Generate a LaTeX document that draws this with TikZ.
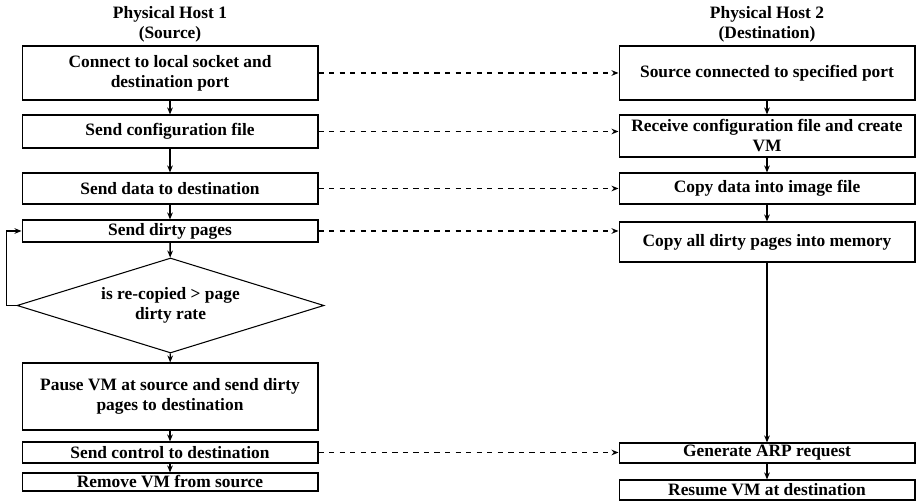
\documentclass[tikz,border=0pt]{standalone}
\usepackage{fontspec}
\setmainfont{Liberation Serif}
\usetikzlibrary{arrows.meta,shapes.geometric}

\begin{document}
\begin{tikzpicture}[x=0.02cm, y=-0.02cm, line width=0.6pt,
  font=\fontsize{9.9}{11.4}\selectfont\bfseries,
  box/.style={draw, minimum width=5.92cm, inner sep=1pt, align=center},
  flow/.style={-{Stealth[length=4pt,width=3.2pt]}, line width=0.8pt},
  link/.style={flow, dashed}]
  \useasboundingbox (0,0) rectangle (917,502);

  % source host
  \draw (170,24.5) node[align=center] (h1) {Physical Host 1\\(Source)};
  \draw (170,73) node[box, minimum height=1.08cm] (s1) {Connect to local socket and\\destination port};
  \draw (170,131.5) node[box, minimum height=0.66cm] (s2) {Send configuration file};
  \draw (170,188.5) node[box, minimum height=0.62cm] (s3) {Send data to destination};
  \draw (170,231) node[box, minimum height=0.44cm] (s4) {Send dirty pages};
  \draw (170.5,305.5) node[draw, diamond, aspect=3.2, inner sep=0pt,
    minimum width=6.14cm, minimum height=1.9cm, align=center] (chk)
    {is re-copied > page\\dirty rate};
  \draw (170,396.5) node[box, minimum height=1.34cm] (s5) {Pause VM at source and send dirty\\pages to destination};
  \draw (170,452.5) node[box, minimum height=0.42cm] (s6) {Send control to destination};
  \draw (170,482) node[box, minimum height=0.36cm] (s7) {Remove VM from source};

  % destination host
  \draw (767,24.5) node[align=center] (h2) {Physical Host 2\\(Destination)};
  \draw (767,73) node[box, minimum height=1.08cm] (d1) {Source connected to specified port};
  \draw (767,136) node[box, minimum height=0.84cm] (d2) {Receive configuration file and create\\VM};
  \draw (767,188.5) node[box, minimum height=0.62cm] (d3) {Copy data into image file};
  \draw (767,242) node[box, minimum height=0.8cm] (d4) {Copy all dirty pages into memory};
  \draw (767,453) node[box, minimum height=0.4cm] (d5) {Generate ARP request};
  \draw (767,490) node[box, minimum height=0.4cm] (d6) {Resume VM at destination};

  \draw[flow] (s1) edge (s2) (s2) edge (s3) (s3) edge (s4) (s4) edge (chk)
    (chk) edge (s5) (s5) edge (s6) (s6) edge (s7);
  \draw[flow] (d1) edge (d2) (d2) edge (d3) (d3) edge (d4) (d4) edge (d5)
    (d5) edge (d6);
  \draw[flow] (chk.west) -- ++(-10,0) |- (s4.west);

  % messages between the hosts
  \draw[link] (s1.east) -- (s1.east -| d1.west);
  \draw[link] (s2.east) -- (s2.east -| d2.west);
  \draw[link] (s3.east) -- (s3.east -| d3.west);
  \draw[link] (s4.east) -- (s4.east -| d4.west);
  \draw[link] (s6.east) -- (s6.east -| d5.west);
\end{tikzpicture}
\end{document}
